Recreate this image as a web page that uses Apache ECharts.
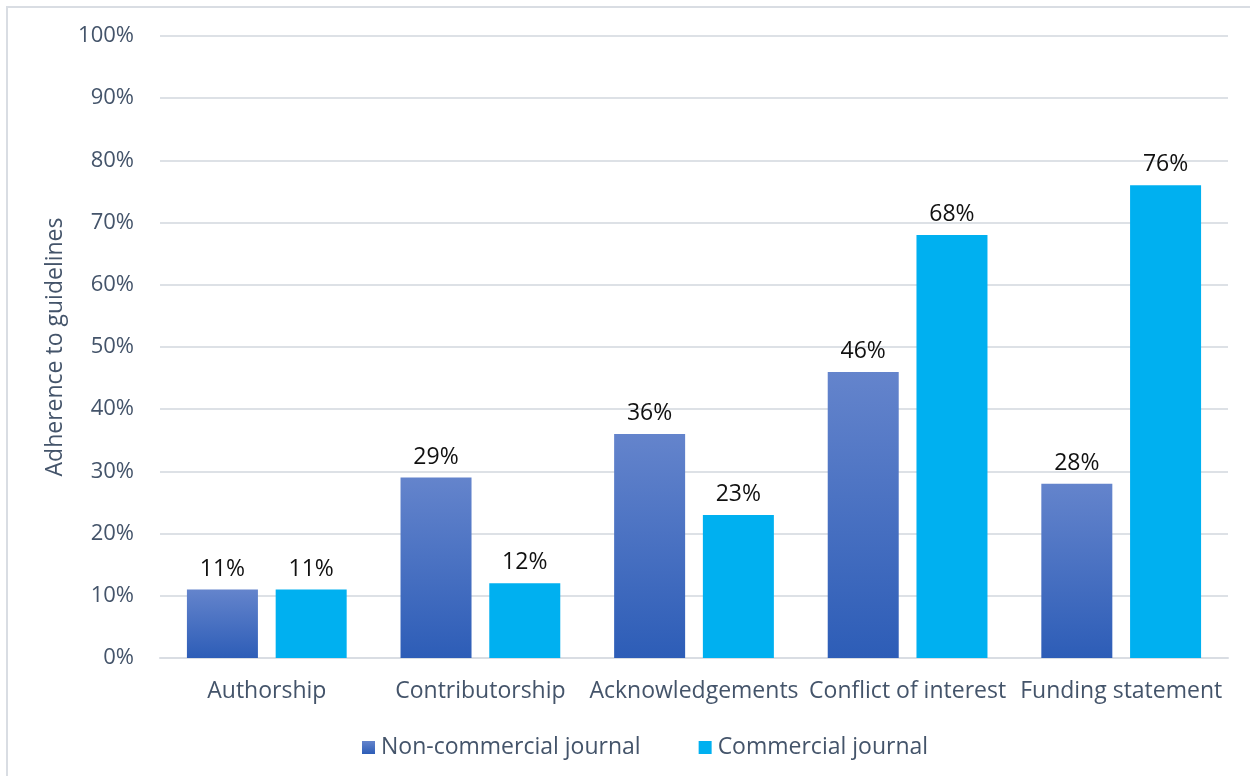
<!DOCTYPE html>
<html>
<head>
<meta charset="utf-8">
<script src="https://cdn.jsdelivr.net/npm/echarts@6/dist/echarts.min.js"></script>
<style>
  html, body { margin: 0; padding: 0; background: #fff; }
  #chart { width: 1250px; height: 776px; }
</style>
</head>
<body>
<div id="chart"></div>
<script>
// Guideline categories and adherence rates (%) by journal type
const categories = ['Authorship', 'Contributorship', 'Acknowledgements', 'Conflict of interest', 'Funding statement'];
const nonCommercial = [11, 29, 36, 46, 28];
const commercial = [11, 12, 23, 68, 76];
const seriesNames = ['Non-commercial journal', 'Commercial journal'];
const yAxisName = 'Adherence to guidelines';

const FONT = '"Open Sans", "Noto Sans", sans-serif';
const SLATE = '#44546A';

const chart = echarts.init(document.getElementById('chart'), null, { renderer: 'canvas' });

const blueGradient = new echarts.graphic.LinearGradient(0, 0, 0, 1, [
  { offset: 0, color: '#6484CC' },
  { offset: 1, color: '#2D5DB7' }
]);

const labelStyle = {
  show: true,
  position: 'top',
  distance: 9,
  formatter: p => p.value + '%',
  color: '#111',
  fontSize: 23,
  fontFamily: FONT
};

chart.setOption({
  backgroundColor: '#fff',
  animation: false,
  graphic: [{
    type: 'rect',
    shape: { x: 7, y: 7, width: 1400, height: 900 },
    style: { fill: 'none', stroke: '#D9DDE3', lineWidth: 2 },
    silent: true
  }],
  grid: { left: 160, right: 22, top: 36, bottom: 118, containLabel: false },
  legend: {
    data: seriesNames,
    left: 357,
    top: 731,
    itemWidth: 13,
    itemHeight: 13,
    itemGap: 58,
    icon: 'rect',
    textStyle: { color: SLATE, fontSize: 23, fontFamily: FONT, padding: [0, 0, 0, 1] }
  },
  xAxis: {
    type: 'category',
    data: categories,
    axisLine: { show: true, lineStyle: { color: '#D9DDE3', width: 2 } },
    axisTick: { show: false },
    axisLabel: { color: SLATE, fontSize: 23, fontFamily: FONT, margin: 22, interval: 0 }
  },
  yAxis: {
    type: 'value',
    min: 0,
    max: 100,
    interval: 10,
    name: yAxisName,
    nameLocation: 'middle',
    nameGap: 93,
    nameRotate: 90,
    nameTextStyle: { color: SLATE, fontSize: 23, fontFamily: FONT },
    axisLine: { show: false },
    axisTick: { show: false },
    axisLabel: { color: SLATE, fontSize: 22, fontFamily: FONT, margin: 26, formatter: v => v + '%' },
    splitLine: { lineStyle: { color: '#DDE1E6', width: 2 } }
  },
  series: [
    {
      name: seriesNames[0],
      type: 'bar',
      data: nonCommercial,
      barWidth: 71,
      barGap: '25%',
      itemStyle: { color: blueGradient },
      label: labelStyle
    },
    {
      name: seriesNames[1],
      type: 'bar',
      data: commercial,
      barWidth: 71,
      itemStyle: { color: '#00B0F0' },
      label: labelStyle
    }
  ]
});
</script>
</body>
</html>
